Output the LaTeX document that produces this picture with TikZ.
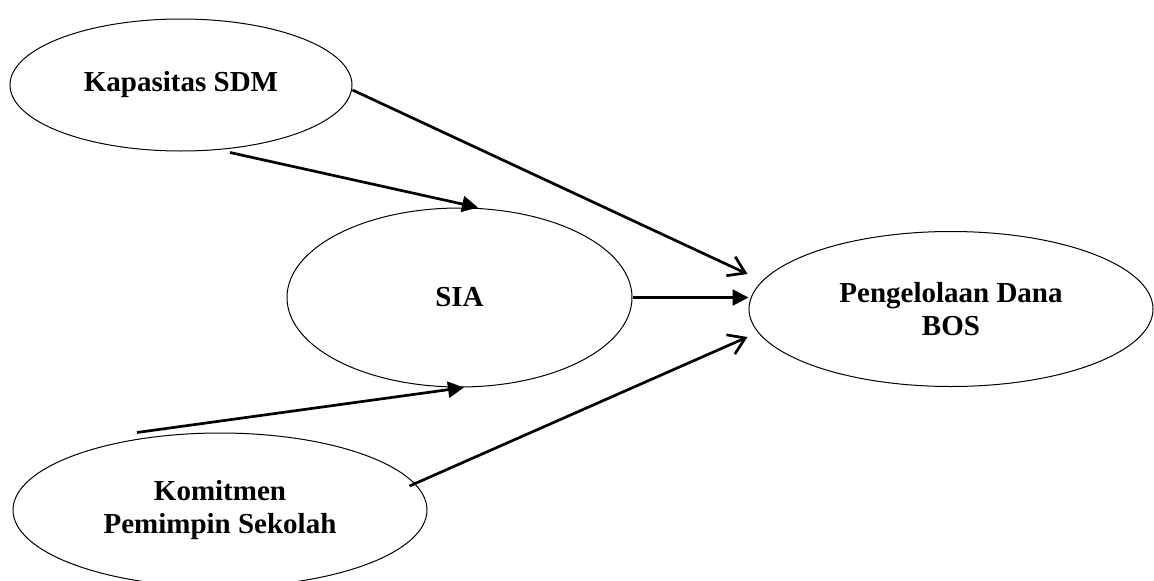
\documentclass[tikz,border=0pt]{standalone}
\usepackage{fontspec}
\setmainfont{Liberation Serif}
\usetikzlibrary{shapes.geometric,arrows.meta,calc}
\tikzset{
  var/.style={ellipse, draw, line width=1pt, inner sep=0pt, align=center,
    font=\bfseries\fontsize{29}{33}\selectfont},
  solidarrow/.style={line width=2.7pt, -{Triangle[length=16pt,width=16pt]}},
  openarrow/.style={line width=2.7pt, -{Straight Barb[length=16pt,width=21pt]}}
}
\begin{document}
\begin{tikzpicture}[x=1pt,y=-1pt]
\useasboundingbox (0,0) rectangle (1154,581);
\node[var, minimum width=342pt, minimum height=132pt] (kap) at (181,85) {Kapasitas SDM};
\node[var, minimum width=345pt, minimum height=179pt] (sia) at (459.5,297.5) {SIA};
\node[var, minimum width=404pt, minimum height=155pt] (peng) at (951,309) {Pengelolaan Dana\\BOS};
\node[var, minimum width=414pt, minimum height=154pt] (kom) at (220,510) {Komitmen\\Pemimpin Sekolah};

\draw[openarrow] ($(kap.east)+(0,5)$) -- ($(peng.west)+(-1,-35)$);
\draw[solidarrow] ($(kap.south)+(49,1)$) -- ($(sia.north)+(18.5,0)$);
\draw[solidarrow] (sia.east) -- (sia.east -| peng.west);
\draw[solidarrow] ($(kom.north)+(-83,0)$) -- ($(sia.south)+(4.5,0)$);
\draw[openarrow] ($(kom.east)+(-18,-24)$) -- ($(peng.west)+(-1,28)$);
\end{tikzpicture}
\end{document}
